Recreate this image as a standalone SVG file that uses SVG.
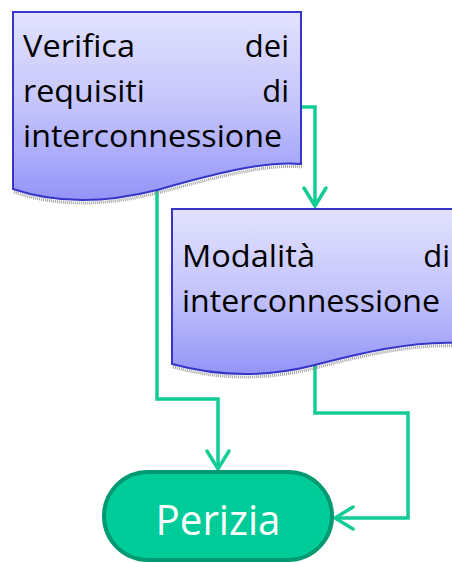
<svg xmlns="http://www.w3.org/2000/svg" width="452" height="563" viewBox="0 0 452 563">
<defs>
<linearGradient id="docg" x1="0" y1="0" x2="0" y2="1">
<stop offset="0" stop-color="#E2E2FE"/>
<stop offset="0.5" stop-color="#C4C4FC"/>
<stop offset="1" stop-color="#9494F8"/>
</linearGradient>
<marker id="arr" markerUnits="userSpaceOnUse" markerWidth="30" markerHeight="30" viewBox="-22 -15 26 30" refX="0" refY="0" orient="auto">
<path d="M-18,-11 L0,0 L-18,11" fill="none" stroke="#12CC96" stroke-width="3.5" stroke-linecap="round" stroke-linejoin="miter"/>
</marker>
</defs>
<style>
.doc{fill:url(#docg);stroke:#3535C8;stroke-width:2}
.shadow{fill:none;stroke:#8a8a8a;stroke-width:3;stroke-dasharray:1 1;opacity:0.8}
.t{font-family:"Open Sans","Liberation Sans",sans-serif;font-size:31px;fill:#000}
.conn{fill:none;stroke:#12CC96;stroke-width:3.5;marker-end:url(#arr)}
.term{fill:#00CC99;stroke:#009A72;stroke-width:4}
.tw{font-family:"Open Sans","Liberation Sans",sans-serif;font-size:42px;fill:#fff}
</style>
<g id="connectors">
<path class="conn" d="M301,107 H315 V206"/>
<path class="conn" d="M157,190 V399 H218 V469"/>
<path class="conn" d="M315,365 V413 H408 V518 H335"/>
</g>
<g id="doc1">
<path class="shadow" d="M14,192 C60,208 110,205 157,193 S262,163 303,167"/>
<path class="doc" d="M13,12 H301 V164 C262,160 200,178 157,190 C110,202 60,205 13,189 Z"/>
<text class="t" x="23" y="57" textLength="112" lengthAdjust="spacingAndGlyphs">Verifica</text>
<text class="t" x="289" y="57" text-anchor="end">dei</text>
<text class="t" x="23" y="102" textLength="122" lengthAdjust="spacingAndGlyphs">requisiti</text>
<text class="t" x="289" y="102" text-anchor="end">di</text>
<text class="t" x="23" y="147" textLength="259" lengthAdjust="spacingAndGlyphs">interconnessione</text>
</g>
<g id="doc2">
<path class="shadow" d="M173,367 C230,383 280,377 315,368 S410,343 462,346"/>
<path class="doc" d="M172,209 H460 V343 C410,340 350,356 315,365 C280,374 230,380 172,364 Z"/>
<text class="t" x="182" y="267" textLength="133" lengthAdjust="spacingAndGlyphs">Modalità</text>
<text class="t" x="450" y="267" text-anchor="end">di</text>
<text class="t" x="182" y="312" textLength="258" lengthAdjust="spacingAndGlyphs">interconnessione</text>
</g>
<g id="perizia">
<rect class="term" x="104" y="472" width="228" height="88" rx="44" ry="44"/>
<text class="tw" x="218" y="535" text-anchor="middle" textLength="125" lengthAdjust="spacingAndGlyphs">Perizia</text>
</g>
</svg>
